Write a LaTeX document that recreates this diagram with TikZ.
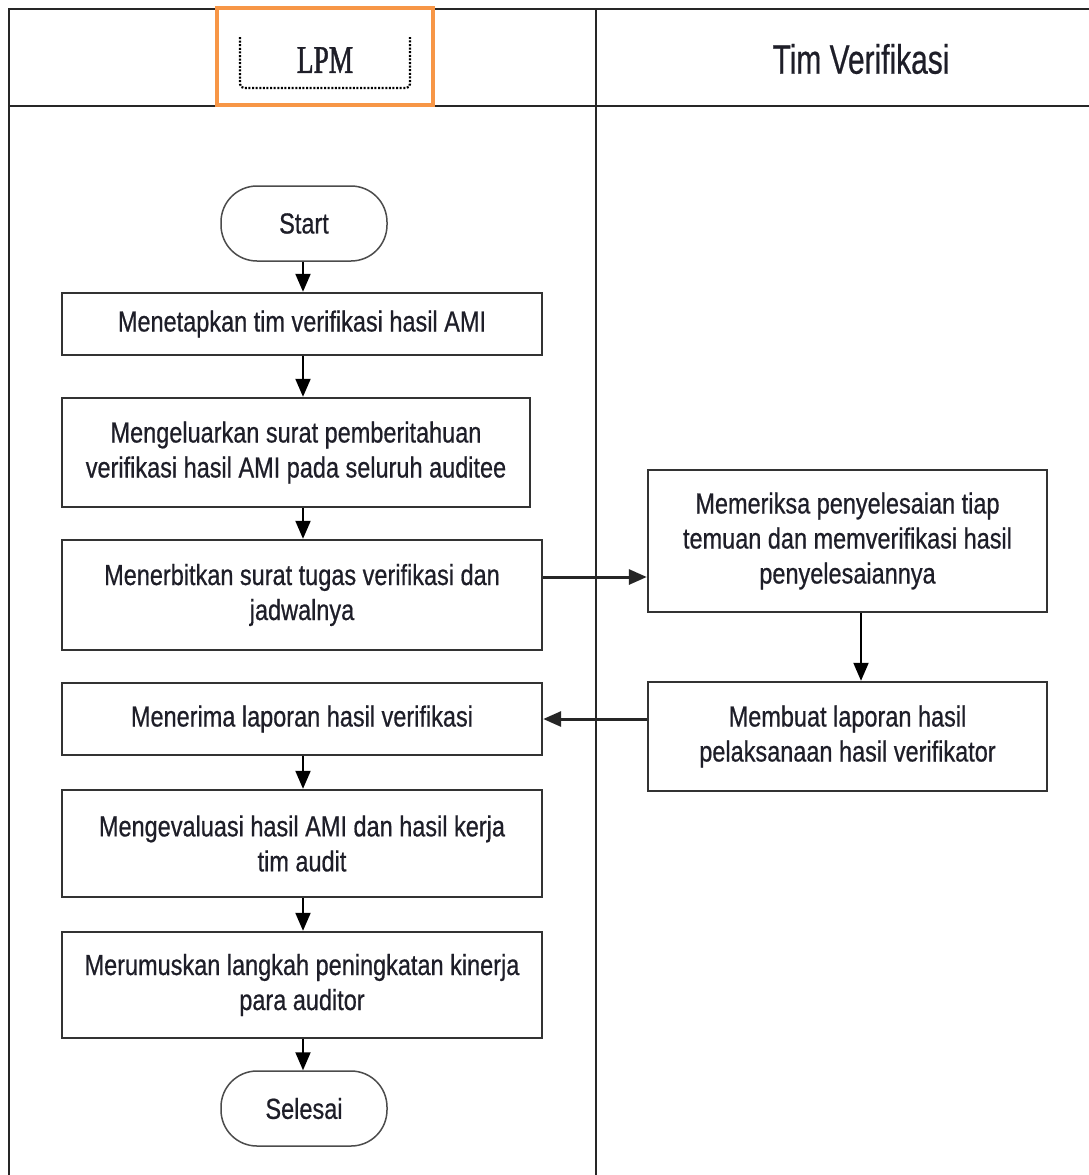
\documentclass[tikz,border=0pt]{standalone}
\usepackage{fontspec}
\setmainfont{Liberation Sans}
\newfontfamily\bodyfont{Liberation Sans}[FakeStretch=0.81,FakeBold=0.6]
\newfontfamily\headfont{Liberation Sans}[FakeStretch=0.73,FakeBold=0.5]
\newfontfamily\lpmfont{Liberation Serif}[FakeStretch=0.70,FakeBold=1.2]
\usetikzlibrary{arrows.meta}
\definecolor{lineclr}{HTML}{333333}
\definecolor{txtclr}{HTML}{1E1E28}
\definecolor{lpmorange}{HTML}{F79646}
\tikzset{
  frame/.style={line width=2pt, draw=black!85},
  procbox/.style={draw=lineclr, line width=2.4pt, rectangle, align=center,
    text=txtclr, font=\bodyfont\fontsize{29}{35}\selectfont, inner sep=0pt},
  termbox/.style={draw=black!70, line width=1.5pt, rectangle, rounded corners=36pt,
    minimum width=166pt, minimum height=75pt, align=center,
    text=txtclr, font=\bodyfont\fontsize{29}{35}\selectfont, inner sep=0pt},
  arr/.style={line width=2pt, draw=black, -{Triangle[width=15pt,length=18pt]}},
  harr/.style={line width=3pt, draw=black!85, -{Triangle[width=15pt,length=18pt]}},
}
\begin{document}
\begin{tikzpicture}[x=1pt,y=-1pt]
  \useasboundingbox (0,0) rectangle (1089,1175);
  \fill[white] (0,0) rectangle (1089,1175);

  % swimlane frame
  \draw[frame] (9,1175) -- (9,9) -- (1089,9);
  \draw[frame] (9,106) -- (1089,106);
  \draw[frame] (596,9) -- (596,1175);

  % lane headers
  \draw[draw=lpmorange, line width=4pt, fill=white] (217,8) rectangle (433,105);
  \draw[line width=2.2pt, dash pattern=on 2pt off 1.6pt, rounded corners=4pt]
    (240,37) -- (240,88) -- (410,88) -- (410,37);
  \node[text=txtclr, font=\lpmfont\fontsize{39}{44}\selectfont] (lpm) at (325,60) {LPM};
  \node[text=txtclr, font=\headfont\fontsize{41}{48}\selectfont] (tim) at (861,59) {Tim Verifikasi};

  % LPM lane
  \node[termbox] (start) at (304,223.5) {Start};
  \node[procbox, minimum width=480pt, minimum height=62pt] (b1) at (302,324)
    {Menetapkan tim verifikasi hasil AMI};
  \node[procbox, minimum width=468pt, minimum height=109pt] (b2) at (296,452.5)
    {Mengeluarkan surat pemberitahuan\\verifikasi hasil AMI pada seluruh auditee};
  \node[procbox, minimum width=480pt, minimum height=110pt] (b3) at (302,595)
    {Menerbitkan surat tugas verifikasi dan\\jadwalnya};
  \node[procbox, minimum width=480pt, minimum height=72pt] (b4) at (302,719)
    {Menerima laporan hasil verifikasi};
  \node[procbox, minimum width=480pt, minimum height=107pt] (b5) at (302,843.5)
    {Mengevaluasi hasil AMI dan hasil kerja\\tim audit};
  \node[procbox, minimum width=480pt, minimum height=106pt] (b6) at (302,985)
    {Merumuskan langkah peningkatan kinerja\\para auditor};
  \node[termbox] (end) at (304,1108.5) {Selesai};

  % Tim Verifikasi lane
  \node[procbox, minimum width=399pt, minimum height=142pt] (r1) at (847.5,541)
    {Memeriksa penyelesaian tiap\\temuan dan memverifikasi hasil\\penyelesaiannya};
  \node[procbox, minimum width=399pt, minimum height=109pt] (r2) at (847.5,736.5)
    {Membuat laporan hasil\\pelaksanaan hasil verifikator};

  % connectors
  \draw[arr] ([xshift=-1pt]start.south) -- ([xshift=-1pt]start.south |- b1.north);
  \draw[arr] ([xshift=1pt]b1.south) -- ([xshift=1pt]b1.south |- b2.north);
  \draw[arr] ([xshift=1pt]b1.south |- b2.south) -- ([xshift=1pt]b1.south |- b3.north);
  \draw[harr] ([yshift=18pt]b3.east) -- ([yshift=18pt]b3.east -| r1.west);
  \draw[arr] ([xshift=13.5pt]r1.south) -- ([xshift=13.5pt]r1.south |- r2.north);
  \draw[harr] (r2.west |- b4.east) -- (b4.east);
  \draw[arr] ([xshift=1pt]b4.south) -- ([xshift=1pt]b4.south |- b5.north);
  \draw[arr] ([xshift=1pt]b5.south) -- ([xshift=1pt]b5.south |- b6.north);
  \draw[arr] ([xshift=1pt]b6.south) -- ([xshift=1pt]b6.south |- end.north);
\end{tikzpicture}
\end{document}
